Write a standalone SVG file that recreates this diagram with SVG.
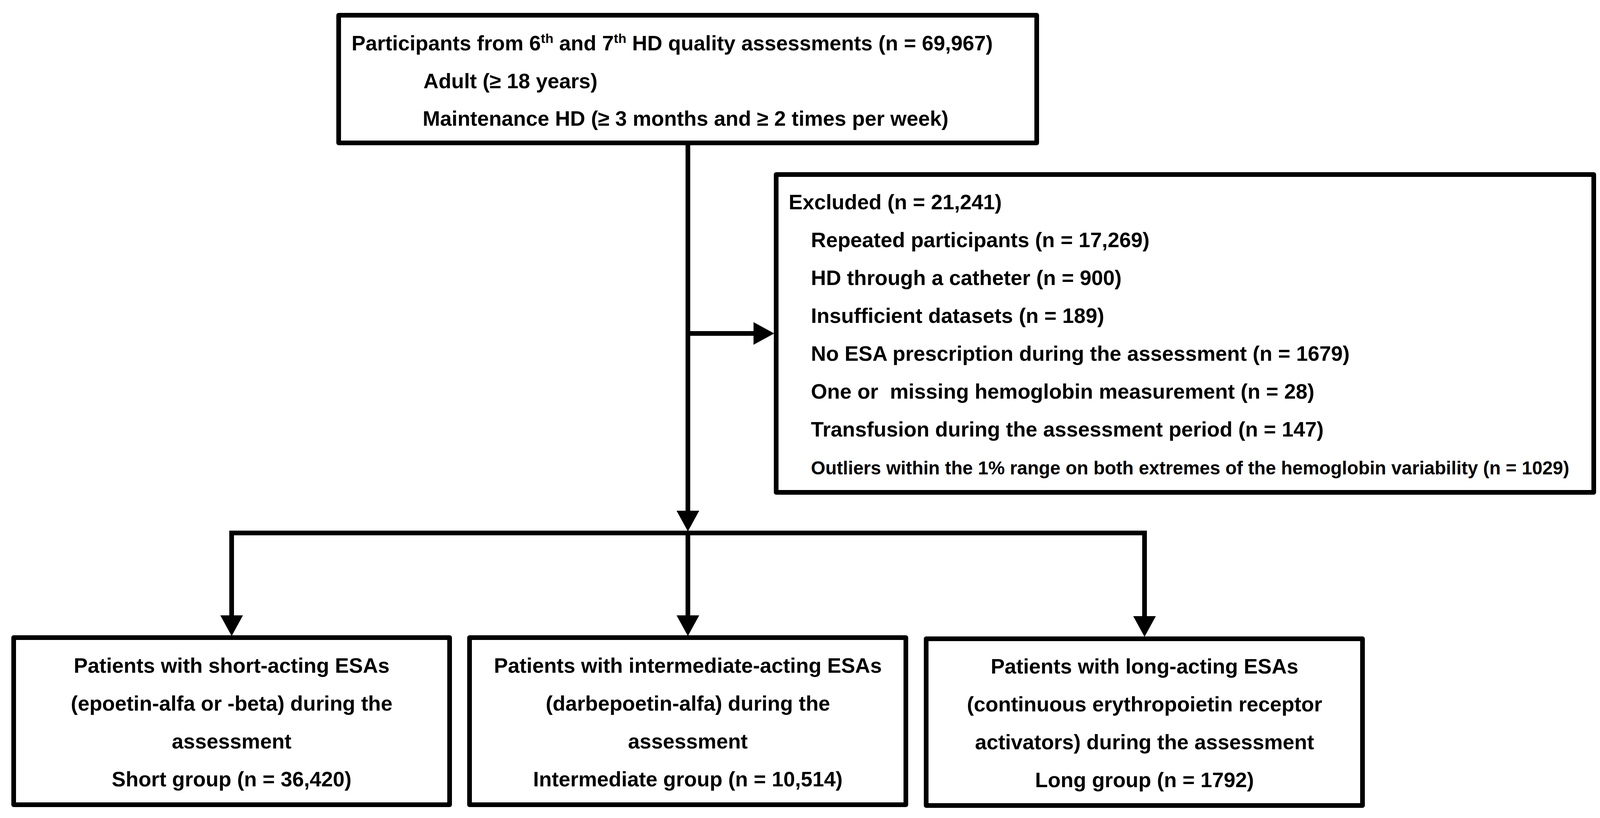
<svg xmlns="http://www.w3.org/2000/svg" width="4391" height="2095" viewBox="0 0 4391 2095">
<style>
.box{fill:#fff;stroke:#000;stroke-width:12;stroke-linejoin:round}
.ln{fill:none;stroke:#000;stroke-width:12}
.t{font-family:"Liberation Sans",Arial,sans-serif;font-weight:bold;font-size:53.5px;fill:#000;white-space:pre}
.c{text-anchor:middle}
.sup{font-size:34px}
.long{font-size:47.5px}
</style>
<defs>
<marker id="ah" markerUnits="userSpaceOnUse" markerWidth="54" markerHeight="60" refX="0" refY="29" orient="auto">
<path d="M0,0 L53,29 L0,58 Z" fill="#000"/>
</marker>
</defs>
<rect width="4391" height="2095" fill="#fff"/>
<g id="connectors">
<path class="ln" d="M1761,366 V1308" marker-end="url(#ah)"/>
<path class="ln" d="M1761,854 H1929" marker-end="url(#ah)"/>
<path class="ln" d="M587,1365 H2936"/>
<path class="ln" d="M593,1359 V1576" marker-end="url(#ah)"/>
<path class="ln" d="M1761,1365 V1576" marker-end="url(#ah)"/>
<path class="ln" d="M2930,1359 V1578" marker-end="url(#ah)"/>
</g>
<g id="node-participants">
<rect class="box" x="867" y="39" width="1787" height="327"/>
<text class="t" x="900" y="129">Participants from 6<tspan class="sup" dy="-19">th</tspan><tspan dy="19"> and 7</tspan><tspan class="sup" dy="-19">th</tspan><tspan dy="19"> HD quality assessments (n = 69,967)</tspan></text>
<text class="t" x="1084" y="226">Adult (≥ 18 years)</text>
<text class="t" x="1082" y="322">Maintenance HD (≥ 3 months and ≥ 2 times per week)</text>
</g>
<g id="node-excluded">
<rect class="box" x="1987" y="447" width="2093" height="814"/>
<text class="t" x="2019" y="536">Excluded (n = 21,241)</text>
<text class="t" x="2076" y="633">Repeated participants (n = 17,269)</text>
<text class="t" x="2076" y="730">HD through a catheter (n = 900)</text>
<text class="t" x="2076" y="827">Insufficient datasets (n = 189)</text>
<text class="t" x="2076" y="924">No ESA prescription during the assessment (n = 1679)</text>
<text class="t" x="2076" y="1021">One or  missing hemoglobin measurement (n = 28)</text>
<text class="t" x="2076" y="1118">Transfusion during the assessment period (n = 147)</text>
<text class="t long" x="2076" y="1215">Outliers within the 1% range on both extremes of the hemoglobin variability (n = 1029)</text>
</g>
<g id="node-short">
<rect class="box" x="35" y="1633" width="1116" height="428"/>
<text class="t c" x="593" y="1723">Patients with short-acting ESAs</text>
<text class="t c" x="593" y="1820">(epoetin-alfa or -beta) during the</text>
<text class="t c" x="593" y="1917">assessment</text>
<text class="t c" x="593" y="2014">Short group (n = 36,420)</text>
</g>
<g id="node-intermediate">
<rect class="box" x="1202" y="1633" width="1117" height="428"/>
<text class="t c" x="1761" y="1723">Patients with intermediate-acting ESAs</text>
<text class="t c" x="1761" y="1820">(darbepoetin-alfa) during the</text>
<text class="t c" x="1761" y="1917">assessment</text>
<text class="t c" x="1761" y="2014">Intermediate group (n = 10,514)</text>
</g>
<g id="node-long">
<rect class="box" x="2371" y="1636" width="1117" height="427"/>
<text class="t c" x="2930" y="1725">Patients with long-acting ESAs</text>
<text class="t c" x="2930" y="1822">(continuous erythropoietin receptor</text>
<text class="t c" x="2930" y="1919">activators) during the assessment</text>
<text class="t c" x="2930" y="2016">Long group (n = 1792)</text>
</g>
</svg>
